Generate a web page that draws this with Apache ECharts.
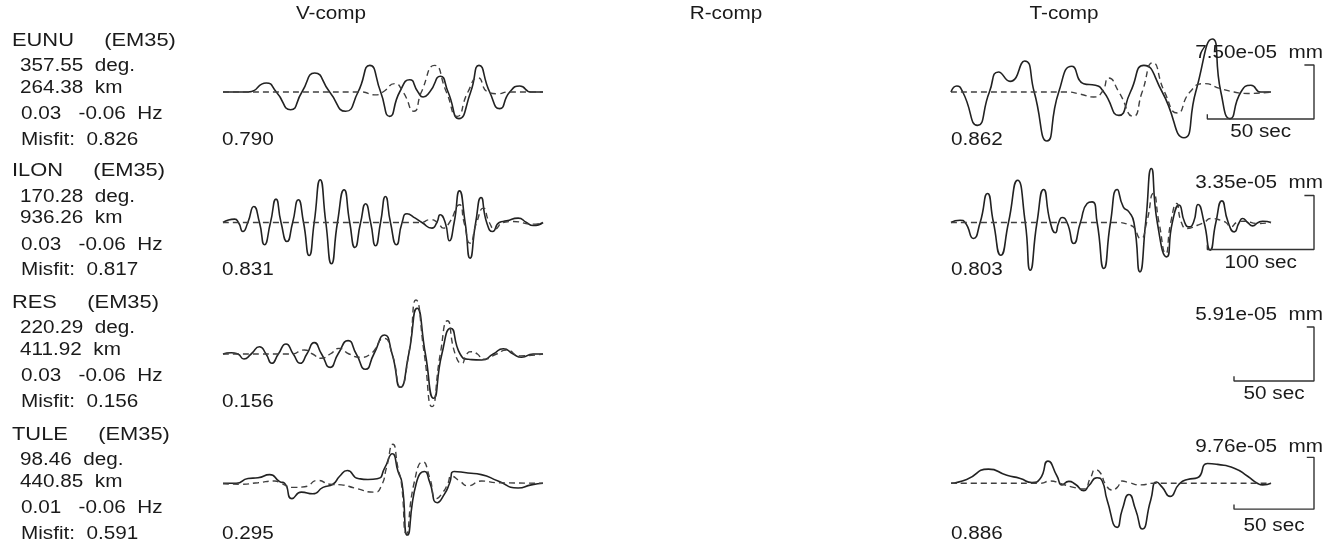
<!DOCTYPE html>
<html>
<head>
<meta charset="utf-8">
<script src="https://cdn.jsdelivr.net/npm/echarts@6/dist/echarts.min.js"></script>
<style>
  html, body { margin: 0; padding: 0; background: #ffffff; }
  #chart { width: 1343px; height: 548px; }
</style>
</head>
<body>
<div id="chart"></div>
<script>
// ---------------- station table ----------------
const stations   = ['EUNU', 'ILON', 'RES', 'TULE'];
const network    = '(EM35)';
const azimuthDeg = ['357.55', '170.28', '220.29', '98.46'];
const distanceKm = ['264.38', '936.26', '411.92', '440.85'];
const bandLowHz  = ['0.03', '0.03', '0.03', '0.01'];
const bandHighHz = ['0.06', '0.06', '0.06', '0.06'];
const misfit     = ['0.826', '0.817', '0.156', '0.591'];
const components = ['V-comp', 'R-comp', 'T-comp'];
const fitV       = ['0.790', '0.831', '0.156', '0.295'];
const fitT       = ['0.862', '0.803', null, '0.886'];
const ampScale   = [7.50, 3.35, 5.91, 9.76];   // peak amplitude, 1e-5 mm
const windowSec  = [150, 300, 200, 200];       // length of each trace window, s
const barSec     = [50, 100, 50, 50];          // time scale bar, s

// ---------------- waveforms: [time s, displacement 1e-5 mm] ----------------
// solid = observed, dashed = synthetic
const eunuVObs = [[0,0],[11.7,0],[20.3,1.25],[25.0,0],[31.7,-2.46],[37.0,0],[43.0,2.64],[50.0,0],[57.5,-2.68],[63.3,0],[68.8,3.70],[73.9,0],[78.1,-3.38],[82.8,0],[87.5,1.71],[91.4,0],[93.8,-0.69],[96.9,0],[101.9,2.18],[105.5,0],[110.6,-3.70],[116.1,0],[120.0,3.70],[125.0,0],[129.7,-2.31],[134.4,0],[139.1,0.83],[144.5,0],[150,0]];
const eunuVSyn = [[0,0],[64.8,0],[71.1,-0.4],[75.0,0],[80.5,1.16],[84.4,0],[89.5,-2.68],[93.0,0],[99.2,3.70],[104.7,0],[109.8,-3.38],[114.8,0],[119.5,1.99],[124.2,0],[128.9,-0.25],[133.6,0],[150,0]];
const eunuTObs = [[0,0],[2.7,0.83],[5.5,0],[12.4,-4.63],[18.0,0],[22.3,2.78],[27.7,1.48],[34.5,4.31],[39.0,0],[45.0,-6.81],[50.5,0],[56.7,3.57],[62.2,1.16],[67.7,0.93],[71.6,0],[78.7,-3.24],[84.1,0],[90.4,3.70],[99.0,0],[109.2,-6.35],[114.7,0],[122.5,7.36],[126.5,0],[130.8,-3.70],[135.9,0],[140.6,0.93],[145.3,0],[150,0]];
const eunuTSyn = [[0,0],[54.4,0],[60.6,-0.3],[66.9,-0.69],[70.8,0],[74.0,1.94],[78.7,0],[85.4,-3.38],[89.6,0],[94.6,4.07],[100.1,0],[106.1,-2.92],[112.0,0],[118.6,1.16],[126.5,0.46],[132.7,0],[139.0,-0.2],[150,0]];

const ilonVObs = [[0,0],[10.9,0.21],[14.5,0],[18.7,-0.56],[23.3,0],[28.9,0.99],[34.2,0],[38.9,-1.38],[44.5,0],[49.7,1.45],[54.4,0],[60.0,-1.18],[65.3,0],[70.6,1.41],[75.5,0],[80.8,-2.05],[85.5,0],[91.1,2.65],[96.4,0],[101.7,-2.56],[107.3,0],[113.5,2.03],[118.8,0],[123.7,-1.55],[129.0,0],[133.7,1.16],[138.4,0],[143.0,-1.44],[147.7,0],[152.3,1.61],[157.0,0],[162.6,-1.38],[167.9,0],[172.5,0.54],[180.3,0.27],[186.5,0],[195.9,-0.35],[200.5,0],[203.6,0.48],[208.3,0],[212.3,-1.13],[216.7,0],[221.7,1.96],[227.0,0],[231.6,-2.21],[236.9,0],[241.9,1.55],[247.2,0],[252.8,-0.56],[259.0,0],[265.8,0.1],[276.7,0.27],[284.5,0],[290.7,-0.19],[300,0]];
const ilonVSyn = [[0,0],[185.0,0],[194.3,0.17],[201.2,0],[206.7,-0.35],[212.3,0],[221.7,1.10],[226.0,0],[231.6,-1.28],[237.8,0],[244.1,0.89],[249.7,0],[254.9,-0.39],[262.7,0],[272.0,0.06],[290.7,-0.1],[300,0]];
const ilonTObs = [[0,0],[8.5,0.14],[13.2,0],[21.0,-0.99],[27.3,0],[34.2,1.80],[39.8,0],[46.7,-2.03],[53.9,0],[62.4,2.62],[69.6,0],[74.3,-2.96],[80.6,0],[86.8,2.05],[93.1,0],[97.8,-0.64],[101.0,0],[104.1,0.31],[108.8,0],[115.1,-1.30],[121.3,0],[127.6,1.18],[132.3,1.28],[137.0,0],[143.3,-2.85],[149.5,0],[155.8,2.05],[161.5,0.97],[166.8,0.66],[171.5,0],[177.1,-3.06],[182.5,0],[187.8,3.35],[193.4,0],[202.2,-2.13],[207.5,0],[213.8,1.08],[219.1,0],[223.2,-0.27],[227.3,0],[231.7,1.12],[237.3,0],[243.0,-1.72],[248.3,0],[253.9,1.34],[259.9,0],[265.5,-0.58],[270.2,0],[273.4,0.25],[278.1,0],[282.8,-0.21],[288.0,0],[292.2,0.08],[300,0]];
const ilonTSyn = [[0,0],[152.7,0],[168.3,-0.17],[177.8,-0.99],[183.4,0],[189.7,1.80],[195.0,0],[201.3,-1.92],[206.0,0],[211.6,1.18],[216.0,0],[221.6,-0.37],[231.0,-0.17],[237.3,0],[243.6,0.25],[253.0,0.14],[257.7,0],[262.4,-0.27],[268.0,0],[274.9,0.08],[287.5,-0.06],[300,0]];

const resVObs = [[0,0],[5.2,0.14],[9.3,0],[13.1,-0.55],[17.6,0],[22.8,0.80],[26.9,0],[30.5,-1.02],[34.6,0],[39.4,1.09],[43.9,0],[48.3,-1.02],[52.4,0],[57.0,1.24],[61.6,0],[67.0,-1.46],[71.9,0],[78.2,1.46],[83.3,0],[89.1,-1.67],[94.3,0],[101.0,2.08],[105.7,0],[110.9,-3.64],[116.1,0],[121.3,5.00],[126.5,0],[131.6,-4.85],[136.8,0],[142.4,2.81],[148.2,0],[153.4,-0.58],[161.7,-0.66],[168.9,0],[175.2,0.58],[181.4,0],[186.6,-0.36],[193.8,0],[200,0]];
const resVSyn = [[0,0],[42.5,0],[50.8,0.44],[56.0,0],[61.2,-0.47],[67.0,0],[72.6,0.62],[78.8,0],[86.0,-0.36],[92.2,0],[100.5,1.72],[105.7,0],[110.9,-3.64],[116.1,0],[120.6,5.91],[125.8,0],[130.6,-5.76],[135.8,0],[140.3,3.64],[145.1,0],[149.3,-1.02],[152.4,0],[155.5,0.25],[159.0,0],[162.7,-0.58],[171.0,0],[177.2,0.44],[185.5,-0.2],[200,0]];

const tuleVObs = [[0,0],[8.3,0],[15.6,0.90],[21.9,1.03],[29.2,1.63],[35.4,0.31],[38.5,0],[43.1,-2.89],[49.0,-1.68],[56.2,-1.99],[62.5,-0.78],[68.7,-0.18],[72.9,1.32],[77.7,2.40],[84.4,0.90],[90.6,0.72],[96.9,0.90],[101.0,2.84],[105.8,5.55],[109.4,2.22],[111.9,0],[115.2,-9.76],[120.8,0],[126.0,2.22],[129.2,0.2],[133.9,-3.67],[138.5,-1.99],[141.6,0],[144.4,2.22],[153.1,1.93],[161.4,1.63],[171.9,0.42],[184.4,-0.90],[192.7,-0.3],[200,0]];
const tuleVSyn = [[0,-0.1],[11.5,-0.18],[21.9,0.1],[32.3,0.42],[36.5,-0.05],[43.7,-0.78],[51.0,-0.66],[59.4,0.54],[66.7,-0.18],[74.0,-0.3],[82.3,-0.90],[94.8,-1.68],[99.0,-0.48],[102.1,2.84],[106.2,7.35],[109.4,2.84],[111.5,0],[114.6,-9.5],[119.4,0],[125.0,4.03],[129.2,1.02],[133.3,-2.89],[137.5,-1.68],[140.6,0],[142.7,1.32],[147.9,0.42],[153.1,-0.48],[161.5,0.42],[171.9,0.1],[200,0]];
const tuleTObs = [[0,0],[9.8,0.72],[23.4,2.66],[34.9,1.50],[43.3,0.90],[50.6,0.13],[55.8,0.90],[60.6,4.16],[66.3,1.32],[69.4,-0.31],[73.6,0.36],[77.7,-0.18],[83.0,-1.39],[86.1,-0.48],[91.3,1.03],[94.5,0.42],[97.6,-3.2],[103.9,-8.31],[107.0,-5.0],[111.2,-2.11],[115.4,-5.0],[119.5,-8.62],[124.8,-3.19],[128.5,0.24],[132.1,-0.78],[136.9,-2.47],[142.5,-0.18],[147.8,0.72],[154.0,1.03],[160.3,3.73],[166.6,3.55],[177.0,2.83],[185.4,1.32],[191.7,-0.05],[194.8,-0.31],[200,0]];
const tuleTSyn = [[0,0],[55.8,0],[62.1,0.42],[68.3,-0.05],[76.7,-0.78],[83.0,-1.08],[87.2,1.03],[90.3,2.53],[93.4,1.93],[96.6,-0.18],[100.7,-1.27],[103.9,-0.78],[107.0,0.42],[111.2,0.12],[118.5,-0.31],[126.9,0],[200,0]];

const wavesV = [[eunuVObs, eunuVSyn], [ilonVObs, ilonVSyn], [resVObs, resVSyn], [tuleVObs, tuleVSyn]];
const wavesT = [[eunuTObs, eunuTSyn], [ilonTObs, ilonTSyn], null, [tuleTObs, tuleTSyn]];

// ---------------- layout ----------------
const rowBase   = [92, 222.5, 354, 486];  // zero line of each station row (px)
const PX_SCALE  = 54;                     // pixels per station amplitude scale
const Y_SPAN    = 1.25;                   // axis half-range in units of the scale
const vLeft = 223, tLeft = 951, traceW = 320, barRight = 1314;
const FONT = '"Liberation Sans", Arial, Helvetica, sans-serif';
const SX = 1.15;                          // horizontal text stretch
const INK = '#1a1a1a';

const grids = [], xAxes = [], yAxes = [], series = [], graphics = [];

function addGrid(left, width, row, xmax) {
  const idx = grids.length;
  const S = ampScale[row];
  grids.push({ left: left, width: width, top: rowBase[row] - Y_SPAN * PX_SCALE, height: 2 * Y_SPAN * PX_SCALE });
  xAxes.push({ gridIndex: idx, type: 'value', min: 0, max: xmax, show: false });
  yAxes.push({ gridIndex: idx, type: 'value', min: -Y_SPAN * S, max: Y_SPAN * S, show: false });
  return idx;
}

function addTrace(idx, data, dashed) {
  series.push({
    type: 'line', xAxisIndex: idx, yAxisIndex: idx, data: data,
    symbol: 'none', showSymbol: false, smooth: 0.6, clip: false, silent: true,
    lineStyle: dashed
      ? { color: '#404040', width: 1.4, type: [6, 4] }
      : { color: '#222222', width: 1.6, type: 'solid' }
  });
}

function txt(x, y, text, size, align) {
  graphics.push({
    type: 'text', x: x, y: y, scaleX: SX, silent: true, z: 10,
    style: {
      text: text, font: size + 'px ' + FONT, fill: INK,
      align: align || 'left', verticalAlign: 'middle',
      textAlign: align || 'left', textVerticalAlign: 'middle'
    }
  });
}

// column headers
const headerX = [331, 726, 1064];
components.forEach((c, k) => txt(headerX[k], 14, c, 18, 'center'));

stations.forEach((st, i) => {
  const b = rowBase[i];
  const S = ampScale[i];

  // station information
  txt(12, b - 51.5, st + '     ' + network, 19);
  txt(20, b - 25.5, azimuthDeg[i] + '  deg.', 18);
  txt(20, b - 4, distanceKm[i] + '  km', 18);
  txt(21, b + 22.5, bandLowHz[i] + '   -' + bandHighHz[i] + '  Hz', 18);
  txt(21, b + 48, 'Misfit:  ' + misfit[i], 18);

  // vertical component
  const gv = addGrid(vLeft, traceW, i, windowSec[i]);
  addTrace(gv, wavesV[i][0], false);
  addTrace(gv, wavesV[i][1], true);
  txt(vLeft - 1, b + 48, fitV[i], 18);

  // transverse component
  if (wavesT[i]) {
    const gt = addGrid(tLeft, traceW, i, windowSec[i]);
    addTrace(gt, wavesT[i][0], false);
    addTrace(gt, wavesT[i][1], true);
    txt(tLeft, b + 48, fitT[i], 18);
  }

  // amplitude / time scale bar
  const barW = traceW * barSec[i] / windowSec[i];
  const gb = addGrid(barRight - barW, barW, i, barSec[i]);
  const L = barSec[i];
  series.push({
    type: 'line', xAxisIndex: gb, yAxisIndex: gb, symbol: 'none', clip: false, silent: true,
    lineStyle: { color: '#333333', width: 1.4 },
    data: [[0, -S / 2 + S * 0.09], [0, -S / 2], [L, -S / 2], [L, S / 2], [L * 0.91, S / 2]]
  });
  txt(1323, b - 39, S.toFixed(2) + 'e-05  mm', 18, 'right');
  txt(barRight - barW / 2, b + 40.5, L + ' sec', 18, 'center');
});

const chart = echarts.init(document.getElementById('chart'), null, { renderer: 'canvas' });
chart.setOption({
  animation: false,
  backgroundColor: '#ffffff',
  grid: grids,
  xAxis: xAxes,
  yAxis: yAxes,
  series: series,
  graphic: { elements: graphics }
});
</script>
</body>
</html>
